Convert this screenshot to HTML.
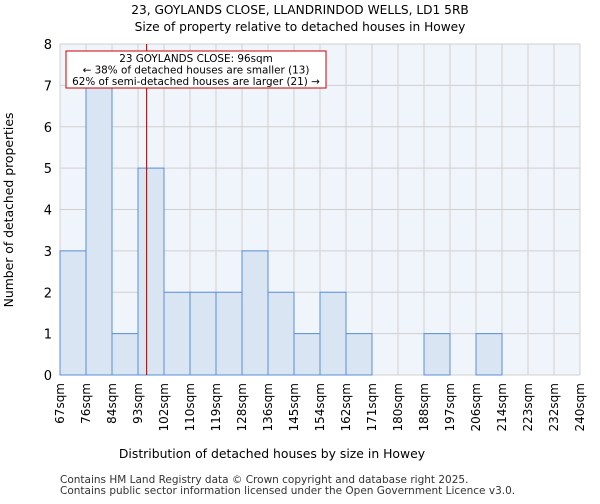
<!DOCTYPE html>
<html><head><meta charset="utf-8"><style>
body{margin:0;background:#fff;font-family:"DejaVu Sans","Liberation Sans",sans-serif}
</style></head><body>
<svg width="600" height="500" xmlns="http://www.w3.org/2000/svg" font-family="DejaVu Sans, Liberation Sans, sans-serif">
<text x="300" y="14" text-anchor="middle" font-size="12.2">23, GOYLANDS CLOSE, LLANDRINDOD WELLS, LD1 5RB</text>
<text x="300" y="31" text-anchor="middle" font-size="12.2">Size of property relative to detached houses in Howey</text>
<rect x="60" y="44" width="520" height="331" fill="#f0f4fb"/>
<g id="grid"></g><g id="bars"></g><g id="axes"></g>
<line id="marker" y1="44" y2="375" stroke="#880000" stroke-width="1"/>
<rect x="66" y="51" width="260" height="37" fill="#fff" stroke="#cc0000" stroke-width="1"/>
<text x="196" y="62" text-anchor="middle" font-size="10.4">23 GOYLANDS CLOSE: 96sqm</text>
<text x="196" y="73.5" text-anchor="middle" font-size="10.4">← 38% of detached houses are smaller (13)</text>
<text x="196" y="85" text-anchor="middle" font-size="10.4">62% of semi-detached houses are larger (21) →</text>
<text x="272" y="458" text-anchor="middle" font-size="12.4">Distribution of detached houses by size in Howey</text>
<text transform="translate(13,210) rotate(-90)" text-anchor="middle" font-size="12.4">Number of detached properties</text>
<text x="60" y="483" font-size="10.5" fill="#333">Contains HM Land Registry data © Crown copyright and database right 2025.</text>
<text x="60" y="494" font-size="10.5" fill="#333">Contains public sector information licensed under the Open Government Licence v3.0.</text>
</svg>
<script>
const categories=["67sqm","76sqm","84sqm","93sqm","102sqm","110sqm","119sqm","128sqm","136sqm","145sqm","154sqm","162sqm","171sqm","180sqm","188sqm","197sqm","206sqm","214sqm","223sqm","232sqm","240sqm"];
const counts=[3,7,1,5,2,2,2,3,2,1,2,1,0,0,1,0,1,0,0,0];
const yTicks=[0,1,2,3,4,5,6,7,8];
const propertyBin=3+3/9;
const NS="http://www.w3.org/2000/svg";
const x0=60,x1=580,yTop=44,yBot=375,yMax=8;
const bw=(x1-x0)/counts.length;
const xs=i=>x0+i*bw;
const ys=v=>yBot-v/yMax*(yBot-yTop);
function mk(t,a,p){const e=document.createElementNS(NS,t);for(const k in a)e.setAttribute(k,a[k]);p.appendChild(e);return e;}
const grid=document.getElementById('grid'),bars=document.getElementById('bars'),axes=document.getElementById('axes');
yTicks.forEach(v=>{
 const g=mk('line',{x1:x0,x2:x1,y1:ys(v),y2:ys(v),stroke:'#d0d0d0','stroke-width':1},grid);
 
 
 const t=mk('text',{x:x0-8,y:ys(v)+5,'text-anchor':'end','font-size':13},axes);t.textContent=v;
 
 
});
categories.forEach((c,i)=>{
 const g=mk('line',{x1:xs(i),x2:xs(i),y1:yTop,y2:yBot,stroke:'#d0d0d0','stroke-width':1},grid);
 
 
 const t=mk('text',{transform:`translate(${xs(i)+4},${yBot+8}) rotate(-90)`,'text-anchor':'end','font-size':12},axes);t.textContent=c;
 
 
});
counts.forEach((v,i)=>{
 if(v<=0)return;
 const r=mk('rect',{x:xs(i),y:ys(v),width:bw,height:yBot-ys(v),fill:'#dae5f4',stroke:'#5b8fd6','stroke-width':1},bars);
 
 
});
const m=document.getElementById('marker');m.setAttribute('x1',xs(propertyBin));m.setAttribute('x2',xs(propertyBin));
</script>
</body></html>
